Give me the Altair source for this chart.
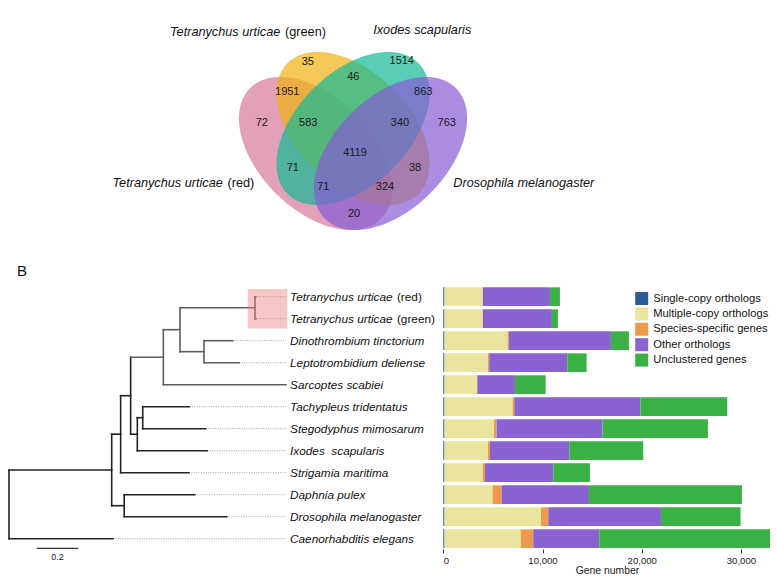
import numpy as np
import pandas as pd
import altair as alt

FONT = "Liberation Sans"

# ---------------- Panel A: Venn diagram ----------------
venn_fill = ["#d6779b", "#f1b013", "#14b996", "#865bd4"]      # red, green, Ixodes, Drosophila
venn_center_x = [0.35, 0.50, 0.50, 0.65]
venn_center_y = [0.47, 0.57, 0.57, 0.47]
venn_rotation = [-45, -45, 45, 45]
venn_semi_major = 0.37
venn_semi_minor = 0.225

venn_counts = ["72", "35", "1514", "763", "1951", "46", "863", "20",
               "583", "340", "71", "38", "71", "324", "4119"]
venn_count_x = [0.135, 0.319, 0.695, 0.875, 0.237, 0.501, 0.781, 0.504,
                0.321, 0.688, 0.259, 0.748, 0.381, 0.628, 0.508]
venn_count_y = [0.593, 0.837, 0.840, 0.593, 0.717, 0.777, 0.717, 0.227,
                0.593, 0.593, 0.411, 0.411, 0.337, 0.337, 0.471]

venn_label_main = ["Tetranychus urticae", "Tetranychus urticae", "Ixodes scapularis", "Drosophila melanogaster"]
venn_label_suffix = ["(red)", "(green)", "", ""]
venn_label_x = [-0.462, -0.232, 0.581, 0.901]
venn_label_y = [0.351, 0.957, 0.964, 0.351]

# ---------------- Panel B: tree ----------------
tree_node = ["root", "Caen", "ingroup", "Pancrustacea", "Daphnia", "Drosophila", "ArStr",
             "Strigamia", "Arachnida", "TSI", "TS", "Tachypleus", "Stegodyphus", "Ixodes",
             "Acari", "Sarcoptes", "Tromb", "Tetranychus", "Tu_red", "Tu_green",
             "DinoLepto", "Dino", "Lepto"]
tree_parent = [None, "root", "root", "ingroup", "Pancrustacea", "Pancrustacea", "ingroup",
               "ArStr", "ArStr", "Arachnida", "TSI", "TS", "TS", "TSI",
               "Arachnida", "Acari", "Acari", "Tromb", "Tetranychus", "Tetranychus",
               "Tromb", "DinoLepto", "DinoLepto"]
tree_branch = [0.0, 0.499, 0.493, 0.060, 0.339, 0.492, 0.043,
               0.328, 0.048, 0.032, 0.026, 0.224, 0.302, 0.336,
               0.157, 0.589, 0.080, 0.360, 0.004, 0.004,
               0.115, 0.138, 0.169]
tip_nodes = ["Tu_red", "Tu_green", "Dino", "Lepto", "Sarcoptes", "Tachypleus",
             "Stegodyphus", "Ixodes", "Strigamia", "Daphnia", "Drosophila", "Caen"]
tip_label_main = ["Tetranychus urticae", "Tetranychus urticae", "Dinothrombium tinctorium",
                  "Leptotrombidium deliense", "Sarcoptes scabiei", "Tachypleus tridentatus",
                  "Stegodyphus mimosarum", "Ixodes\u00a0 scapularis", "Strigamia maritima",
                  "Daphnia pulex", "Drosophila melanogaster", "Caenorhabditis elegans"]
tip_label_suffix = ["(red)", "(green)", "", "", "", "", "", "", "", "", "", ""]
gray_clade = "Acari"
highlight_node = "Tetranychus"
scale_bar_length = 0.2

# ---------------- Panel B: gene number bars ----------------
bar_species = ["Tetranychus urticae (red)", "Tetranychus urticae (green)", "Dinothrombium tinctorium",
               "Leptotrombidium deliense", "Sarcoptes scabiei", "Tachypleus tridentatus",
               "Stegodyphus mimosarum", "Ixodes scapularis", "Strigamia maritima",
               "Daphnia pulex", "Drosophila melanogaster", "Caenorhabditis elegans"]
bar_categories = ["Single-copy orthologs", "Multiple-copy orthologs", "Species-specific genes",
                  "Other orthologs", "Unclustered genes"]
bar_colors = ["#2d5b94", "#e9e59e", "#ee9a4c", "#8a63d2", "#3bb144"]
single_copy = [120] * 12
multi_copy = [3844, 3844, 6363, 4381, 3273, 6867, 4986, 4381, 3844, 4851, 9722, 7673]
species_specific = [30, 30, 135, 134, 40, 168, 269, 201, 235, 907, 739, 1277]
other_orthologs = [6755, 6956, 10278, 7861, 3789, 12731, 10681, 7996, 6886, 8801, 11354, 6650]
unclustered = [1008, 605, 1814, 1948, 3090, 8734, 10615, 7457, 3695, 15418, 8028, 17266]

ARIAL_W = {'T': 611, 'e': 556, 't': 278, 'r': 333, 'a': 556, 'n': 556, 'y': 500, 'c': 500,
           'h': 556, 'u': 556, 's': 500, 'i': 222, ' ': 278}


def text_width(s, fs):
    return sum(ARIAL_W.get(ch, 556) for ch in s) / 1000.0 * fs


# ---------- scales ----------
venn_xs = alt.Scale(domain=[0, 1], range=[220, 470], nice=False, zero=False)
venn_ys = alt.Scale(domain=[0, 1], range=[263, 13], nice=False, zero=False)
tree_xs = alt.Scale(domain=[0, 1], range=[1, 209.3], nice=False, zero=False)
tree_ys = alt.Scale(domain=[0, 11], range=[288.7, 530.7], nice=False, zero=False)
bar_xs = alt.Scale(domain=[0, 33000], range=[435.3, 762.7], nice=False, zero=False)
bar_ys = alt.Scale(domain=bar_species, range=[277.7, 541.7], paddingInner=0.15, paddingOuter=0.075)


# ---------- Venn ----------
def ellipse_band(cx, cy, a, b, rot_deg, n=260):
    t = np.radians(rot_deg)
    c, s = np.cos(t), np.sin(t)
    A = c * c / a ** 2 + s * s / b ** 2
    B = 2 * c * s * (1 / a ** 2 - 1 / b ** 2)
    C = s * s / a ** 2 + c * c / b ** 2
    xmax = np.sqrt(4 * C / (4 * A * C - B * B))
    u = np.linspace(0, np.pi, n)
    xs = -xmax * np.cos(u)
    disc = np.clip(B * B * xs * xs - 4 * C * (A * xs * xs - 1), 0, None)
    y1 = (-B * xs + np.sqrt(disc)) / (2 * C)
    y2 = (-B * xs - np.sqrt(disc)) / (2 * C)
    return pd.DataFrame({"vx": cx + xs, "vtop": cy + y1, "vbot": cy + y2})


venn_layers = []
for i in range(4):
    df = ellipse_band(venn_center_x[i], venn_center_y[i], venn_semi_major, venn_semi_minor, venn_rotation[i])
    venn_layers.append(
        alt.Chart(df).mark_area(orient="vertical", color=venn_fill[i], fillOpacity=0.7, strokeWidth=0)
        .encode(x=alt.X("vx:Q", scale=venn_xs, axis=None),
                y=alt.Y("vtop:Q", scale=venn_ys, axis=None),
                y2="vbot:Q")
    )

count_df = pd.DataFrame({"cx": venn_count_x, "cy": venn_count_y, "txt": venn_counts})
venn_layers.append(
    alt.Chart(count_df).mark_text(font=FONT, fontSize=11, color="#1a1a1a", align="center", baseline="middle")
    .encode(x=alt.X("cx:Q", scale=venn_xs, axis=None), y=alt.Y("cy:Q", scale=venn_ys, axis=None), text="txt:N")
)
vlab_df = pd.DataFrame({"lx": venn_label_x, "ly": venn_label_y, "main": venn_label_main, "suf": venn_label_suffix})
VFS = 12.7
venn_layers.append(
    alt.Chart(vlab_df).mark_text(font=FONT, fontSize=VFS, fontStyle="italic", color="#111", align="left", baseline="middle")
    .encode(x=alt.X("lx:Q", scale=venn_xs, axis=None), y=alt.Y("ly:Q", scale=venn_ys, axis=None), text="main:N")
)
venn_layers.append(
    alt.Chart(vlab_df[vlab_df.suf != ""]).mark_text(font=FONT, fontSize=VFS, color="#111", align="left", baseline="middle",
                                                   dx=text_width("Tetranychus urticae ", VFS))
    .encode(x=alt.X("lx:Q", scale=venn_xs, axis=None), y=alt.Y("ly:Q", scale=venn_ys, axis=None), text="suf:N")
)
venn = alt.layer(*venn_layers)

# ---------- tree geometry ----------
parent_of = dict(zip(tree_node, tree_parent))
depth = {}
for n, p, bl in zip(tree_node, tree_parent, tree_branch):
    depth[n] = bl + (depth[p] if p else 0.0)
children = {n: [] for n in tree_node}
for n, p in zip(tree_node, tree_parent):
    if p:
        children[p].append(n)
ypos = {n: i for i, n in enumerate(tip_nodes)}
for n in reversed(tree_node):
    if children[n]:
        ypos[n] = float(np.mean([ypos[c] for c in children[n]]))


def in_clade(n, clade):
    while n is not None:
        if n == clade:
            return True
        n = parent_of[n]
    return False


segs = []
for n in tree_node:
    col = "#5e5e5e" if in_clade(n, gray_clade) else "#222222"
    p = parent_of[n]
    if p:
        segs.append({"x": depth[p], "x2": depth[n], "y": ypos[n], "y2": ypos[n], "col": col})
    if children[n]:
        ys = [ypos[c] for c in children[n]]
        segs.append({"x": depth[n], "x2": depth[n], "y": min(ys), "y2": max(ys), "col": col})
seg_df = pd.DataFrame(segs)

label_x = max(depth[t] for t in tip_nodes)
dots = [{"x": depth[t], "x2": label_x, "y": ypos[t]} for t in tip_nodes if label_x - depth[t] > 0.01]
dot_df = pd.DataFrame(dots)
tip_df = pd.DataFrame({"x": [label_x] * 12, "y": list(range(12)), "main": tip_label_main, "suf": tip_label_suffix})

hl_kids = children[highlight_node]
box_df = pd.DataFrame({"x": [depth[highlight_node] - 0.035], "x2": [label_x + 0.006],
                       "y": [min(ypos[c] for c in hl_kids) - 0.35], "y2": [max(ypos[c] for c in hl_kids) + 0.45]})
sb_df = pd.DataFrame({"x": [0.133], "x2": [0.133 + scale_bar_length], "y": [11.44], "ty": [11.84],
                      "tx": [0.133 + scale_bar_length / 2], "txt": [str(scale_bar_length)]})
panel_df = pd.DataFrame({"x": [0.062], "y": [-1.15], "txt": ["B"]})

TX = lambda f: alt.X(f, scale=tree_xs, axis=None)
TY = lambda f: alt.Y(f, scale=tree_ys, axis=None)
TFS = 11.8

tree = alt.layer(
    alt.Chart(dot_df).mark_rule(color="#a0a0a0", strokeWidth=1, strokeDash=[1, 1.4])
    .encode(x=TX("x:Q"), x2="x2:Q", y=TY("y:Q")),
    alt.Chart(seg_df).mark_rule(strokeWidth=1.6, strokeCap="square")
    .encode(x=TX("x:Q"), x2="x2:Q", y=TY("y:Q"), y2="y2:Q", color=alt.Color("col:N", scale=None)),
    alt.Chart(box_df).mark_rect(color="#e98581", opacity=0.45)
    .encode(x=TX("x:Q"), x2="x2:Q", y=TY("y:Q"), y2="y2:Q"),
    alt.Chart(tip_df).mark_text(font=FONT, fontSize=TFS, fontStyle="italic", color="#111", align="left",
                                baseline="middle", dx=4)
    .encode(x=TX("x:Q"), y=TY("y:Q"), text="main:N"),
    alt.Chart(tip_df[tip_df.suf != ""]).mark_text(font=FONT, fontSize=TFS, color="#111", align="left",
                                                 baseline="middle", dx=4 + text_width("Tetranychus urticae ", TFS))
    .encode(x=TX("x:Q"), y=TY("y:Q"), text="suf:N"),
    alt.Chart(sb_df).mark_rule(color="#333", strokeWidth=1.2)
    .encode(x=TX("x:Q"), x2="x2:Q", y=TY("y:Q")),
    alt.Chart(sb_df).mark_text(font=FONT, fontSize=9, color="#222", baseline="middle")
    .encode(x=TX("tx:Q"), y=TY("ty:Q"), text="txt:N"),
    alt.Chart(panel_df).mark_text(font=FONT, fontSize=15, color="#111", baseline="middle", align="center")
    .encode(x=TX("x:Q"), y=TY("y:Q"), text="txt:N"),
)

# ---------- bars ----------
rows = []
vals = [single_copy, multi_copy, species_specific, other_orthologs, unclustered]
for si, sp in enumerate(bar_species):
    for ci, cat in enumerate(bar_categories):
        rows.append({"species": sp, "category": cat, "genes": vals[ci][si], "corder": ci})
bar_df = pd.DataFrame(rows)

bars = alt.Chart(bar_df).mark_bar().encode(
    x=alt.X("genes:Q", stack="zero", scale=bar_xs, title="Gene number",
            axis=alt.Axis(values=[0, 10000, 20000, 30000], format=",d", domain=False, grid=False,
                          tickSize=4, tickColor="#333", offset=1, labelPadding=2,
                          labelFont=FONT, labelFontSize=9.6, labelColor="#222",
                          titleFont=FONT, titleFontSize=10.4, titleFontWeight="normal",
                          titleColor="#222", titlePadding=1)),
    y=alt.Y("species:N", scale=bar_ys, axis=None),
    color=alt.Color("category:N", scale=alt.Scale(domain=bar_categories, range=bar_colors),
                    legend=alt.Legend(title=None, orient="none", legendX=627.2, legendY=284,
                                      symbolType="square", symbolSize=169, symbolStrokeWidth=0,
                                      labelFont=FONT, labelFontSize=11.2, labelColor="#111",
                                      labelOffset=5, rowPadding=2.4, labelLimit=200)),
    order=alt.Order("corder:Q", sort="ascending"),
)

chart = (
    alt.layer(venn, tree, bars)
    .resolve_scale(x="independent", y="independent", color="independent")
    .properties(width=762, height=540,
                padding={"left": 0, "top": 0, "right": 0, "bottom": 30},
                autosize=alt.AutoSizeParams(type="none"))
    .configure_view(stroke=None)
)

chart.save("out.html", embed_options={"renderer": "svg", "actions": False})
